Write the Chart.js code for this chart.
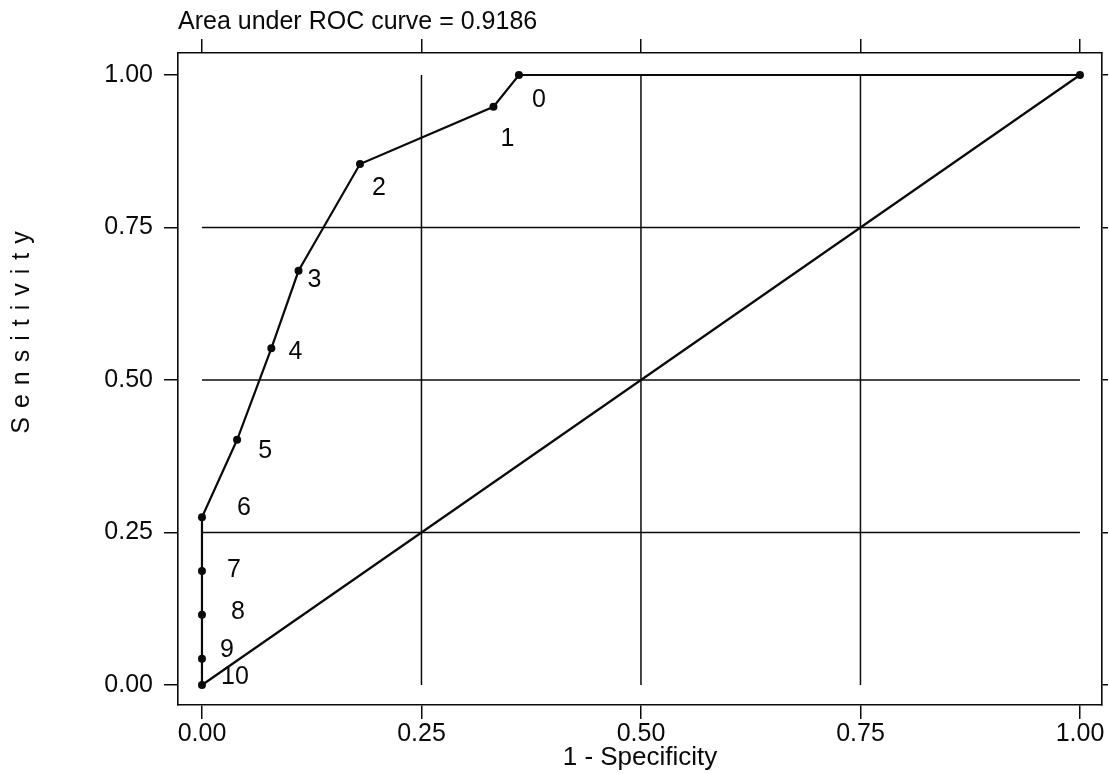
<!DOCTYPE html>
<html>
<head>
<meta charset="utf-8">
<script src="https://cdn.jsdelivr.net/npm/chart.js@4"></script>
<style>
  html, body { margin: 0; padding: 0; background: #fff; }
  #c { display: block; }
</style>
</head>
<body>
<canvas id="c" width="1109" height="774"></canvas>
<script>
// ---- data ----
const chartTitle = 'Area under ROC curve = 0.9186';
const xAxisTitle = '1 - Specificity';
const yAxisTitle = 'Sensitivity';
// ROC curve points: start at (1,1), then cut-offs 0 .. 10
const rocLabels = ['', '0', '1', '2', '3', '4', '5', '6', '7', '8', '9', '10'];
const rocFpr    = [1.000, 0.361, 0.332, 0.180, 0.110, 0.079, 0.040, 0.000, 0.000, 0.000, 0.000, 0.000];
const rocTpr    = [1.000, 1.000, 0.948, 0.854, 0.679, 0.552, 0.402, 0.275, 0.187, 0.115, 0.043, 0.000];
// chance diagonal
const chanceX = [0, 1];
const chanceY = [0, 1];
// axis ticks and grid lines
const tickValues = [0, 0.25, 0.5, 0.75, 1];
const gridValues = [0.25, 0.5, 0.75];

// ---- build datasets ----
const FONT = '"Liberation Sans", Arial, Helvetica, sans-serif';
const black = '#0a0a0a';

const datasets = [];
datasets.push({
  label: 'ROC',
  data: rocFpr.map((x, i) => ({ x: x, y: rocTpr[i] })),
  showLine: true,
  borderColor: black,
  borderWidth: 2.2,
  pointRadius: 4,
  pointBackgroundColor: black,
  pointBorderColor: black,
  pointBorderWidth: 0,
  tension: 0
});
datasets.push({
  label: 'chance',
  data: chanceX.map((x, i) => ({ x: x, y: chanceY[i] })),
  showLine: true,
  borderColor: black,
  borderWidth: 2.2,
  pointRadius: 0
});
gridValues.forEach(v => {
  datasets.push({ label: 'gx', data: [{ x: v, y: 0 }, { x: v, y: 1 }], showLine: true,
    borderColor: black, borderWidth: 1.5, pointRadius: 0 });
  datasets.push({ label: 'gy', data: [{ x: 0, y: v }, { x: 1, y: v }], showLine: true,
    borderColor: black, borderWidth: 1.5, pointRadius: 0 });
});

function setTicks(scale) { scale.ticks = tickValues.map(v => ({ value: v })); }

// point labels + rotated, letter-spaced y title
const annotate = {
  id: 'annotate',
  afterDatasetsDraw(chart, args, opts) {
    const ctx = chart.ctx;
    const meta = chart.getDatasetMeta(0);
    ctx.save();
    ctx.fillStyle = black;
    ctx.font = '25px ' + FONT;
    ctx.textAlign = 'center';
    ctx.textBaseline = 'middle';
    meta.data.forEach((el, i) => {
      const t = rocLabels[i];
      if (!t) return;
      const off = opts.offsets[i] || [0, 0];
      ctx.fillText(t, el.x + off[0], el.y + off[1]);
    });
    ctx.restore();
  },
  afterDraw(chart, args, opts) {
    const ctx = chart.ctx;
    ctx.save();
    ctx.fillStyle = black;
    ctx.font = '25px ' + FONT;
    ctx.letterSpacing = '9px';
    ctx.textAlign = 'center';
    ctx.textBaseline = 'middle';
    ctx.translate(opts.yTitleX, opts.yTitleY);
    ctx.rotate(-Math.PI / 2);
    ctx.fillText(yAxisTitle, 4, 0);
    ctx.restore();
  }
};

new Chart(document.getElementById('c'), {
  type: 'scatter',
  data: { datasets },
  plugins: [annotate],
  options: {
    responsive: false,
    animation: false,
    devicePixelRatio: 1,
    layout: { padding: { left: 0, right: 0, top: 0, bottom: 0 } },
    plugins: {
      legend: { display: false },
      tooltip: { enabled: false },
      title: {
        display: true,
        text: chartTitle,
        align: 'start',
        fullSize: false,
        color: black,
        font: { family: FONT, size: 25, weight: 'normal', lineHeight: 1.2 },
        padding: { top: 7.5, bottom: 1.5 }
      },
      annotate: {
        yTitleX: 22,
        yTitleY: 332,
        offsets: [[0, 0], [20, 25], [14, 32], [19, 24], [16, 9], [24, 4], [28, 11],
                  [42, -9], [32, -1], [36, -3], [25, -9], [33, -8]]
      }
    },
    scales: {
      x: {
        type: 'linear', position: 'bottom',
        min: -0.0273, max: 1.0251,
        afterBuildTicks: setTicks,
        afterFit(s) { s.height = 69; s.paddingLeft = 0; s.paddingRight = 0; },
        ticks: {
          autoSkip: false, maxRotation: 0, padding: 0, color: black,
          font: { family: FONT, size: 25, lineHeight: 1.2 },
          callback: v => Number(v).toFixed(2)
        },
        grid: { drawOnChartArea: false, drawTicks: true, tickLength: 14, color: black, lineWidth: 1.5 },
        border: { display: true, color: black, width: 1.6 },
        title: {
          display: true, text: xAxisTitle, color: black,
          font: { family: FONT, size: 26, lineHeight: 1.2 },
          padding: { top: 0, bottom: 1 }
        }
      },
      x2: {
        type: 'linear', position: 'top',
        min: -0.0273, max: 1.0251,
        afterBuildTicks: setTicks,
        afterFit(s) { s.height = 14; s.paddingLeft = 0; s.paddingRight = 0; },
        ticks: { display: false },
        grid: { drawOnChartArea: false, drawTicks: true, tickLength: 14, color: black, lineWidth: 1.5 },
        border: { display: true, color: black, width: 1.6 }
      },
      y: {
        type: 'linear', position: 'left',
        min: -0.0328, max: 1.0361,
        afterBuildTicks: setTicks,
        afterFit(s) { s.width = 178; s.paddingTop = 0; s.paddingBottom = 0; },
        ticks: {
          autoSkip: false, padding: 11, color: black,
          font: { family: FONT, size: 25, lineHeight: 1.2 },
          callback: v => Number(v).toFixed(2)
        },
        grid: { drawOnChartArea: false, drawTicks: true, tickLength: 14, color: black, lineWidth: 1.5 },
        border: { display: true, color: black, width: 1.6 }
      },
      y2: {
        type: 'linear', position: 'right',
        min: -0.0328, max: 1.0361,
        afterBuildTicks: setTicks,
        afterFit(s) { s.width = 7; s.paddingTop = 0; s.paddingBottom = 0; },
        ticks: { display: false },
        grid: { drawOnChartArea: false, drawTicks: true, tickLength: 6, color: black, lineWidth: 1.5 },
        border: { display: true, color: black, width: 1.6 }
      }
    }
  }
});
</script>
</body>
</html>
